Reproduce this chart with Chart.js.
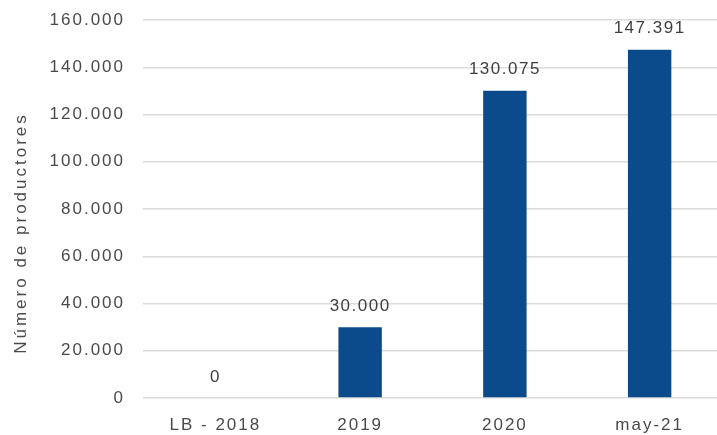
<!DOCTYPE html>
<html>
<head>
<meta charset="utf-8">
<script src="https://cdn.jsdelivr.net/npm/chart.js@4"></script>
<style>
  html, body { margin: 0; padding: 0; background: #fff; overflow: hidden; }
  #wrap { width: 722px; height: 435px; }
</style>
</head>
<body>
<div id="wrap"><canvas id="barChart0"></canvas></div>
<script>
const categories = ["LB - 2018", "2019", "2020", "may-21"];
const producers = [0, 30000, 130075, 147391];
const yTicks = [0, 20000, 40000, 60000, 80000, 100000, 120000, 140000, 160000];
const yTitle = "Número de productores";

const FONT = "'Liberation Sans', Arial, sans-serif";
const TEXT = "#4a4a4a";

// thousands with a dot, as in "130.075"
function fmt(v) {
  return String(Math.round(v)).replace(/\B(?=(\d{3})+(?!\d))/g, ".");
}

// wider tracking for the axis text
const tracking = {
  id: "tracking",
  beforeDraw(chart) {
    chart.ctx.letterSpacing = "2px";
  }
};

// axis title, drawn by hand so it can sit a bit lower than centre
const axisTitle = {
  id: "axisTitle",
  afterDraw(chart) {
    const ctx = chart.ctx;
    ctx.save();
    ctx.letterSpacing = "3px";
    ctx.font = "17px " + FONT;
    ctx.fillStyle = TEXT;
    ctx.textAlign = "center";
    ctx.textBaseline = "middle";
    ctx.translate(21, 233);
    ctx.rotate(-Math.PI / 2);
    ctx.fillText(yTitle, 0, 0);
    ctx.restore();
  }
};

// value on top of every bar
const barValues = {
  id: "barValues",
  afterDatasetsDraw(chart) {
    const ctx = chart.ctx;
    const meta = chart.getDatasetMeta(0);
    ctx.save();
    ctx.letterSpacing = "1.5px";
    ctx.font = "17px " + FONT;
    ctx.fillStyle = "#3f3f3f";
    ctx.textAlign = "center";
    ctx.textBaseline = "middle";
    meta.data.forEach((bar, i) => {
      ctx.fillText(fmt(producers[i]), bar.x, bar.y - 21);
    });
    ctx.restore();
  }
};

const ctx = document.getElementById("barChart0").getContext("2d");
new Chart(ctx, {
  type: "bar",
  data: {
    labels: categories,
    datasets: [{
      data: producers,
      backgroundColor: "#0b4b8b",
      barPercentage: 0.6,
      categoryPercentage: 0.5
    }]
  },
  options: {
    responsive: true,
    maintainAspectRatio: false,
    animation: false,
    layout: { padding: { top: 20, right: 0, bottom: 0, left: 0 } },
    plugins: { legend: { display: false }, tooltip: { enabled: false } },
    scales: {
      x: {
        grid: { display: false },
        border: { display: false },
        ticks: { color: TEXT, font: { family: FONT, size: 17 }, padding: 9 },
        afterFit(s) { s.height = 37; }
      },
      y: {
        min: 0,
        max: 160000,
        afterBuildTicks(s) { s.ticks = yTicks.map(v => ({ value: v })); },
        grid: { color: "#dcdcdc", lineWidth: 1.5, drawTicks: false },
        border: { display: false },
        ticks: {
          color: TEXT,
          font: { family: FONT, size: 17 },
          padding: 18,
          callback: (v) => fmt(v)
        },
        afterFit(s) {
          s.width = 143;
          s.paddingTop = 0;
          s.paddingBottom = 0;
        }
      }
    }
  },
  plugins: [tracking, barValues, axisTitle]
});
</script>
</body>
</html>
